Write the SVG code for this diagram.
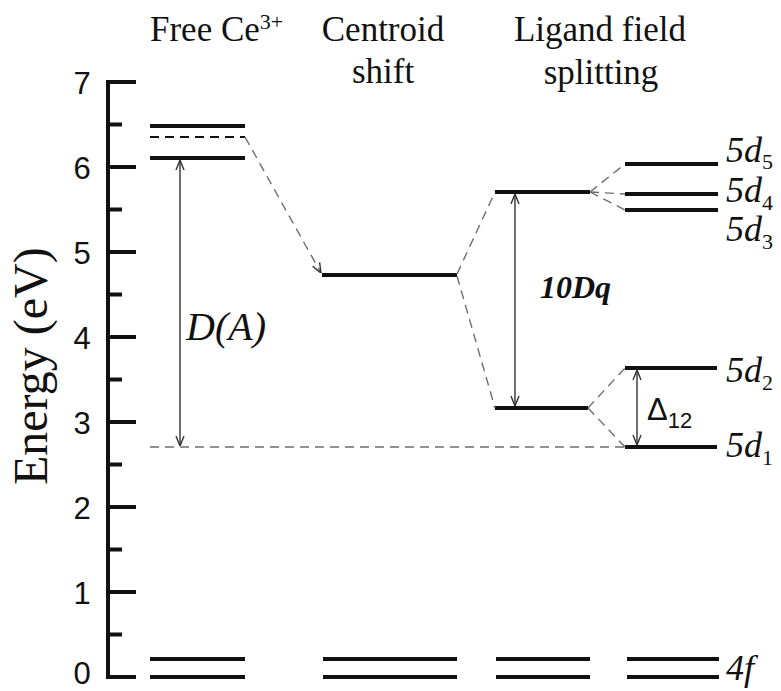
<svg xmlns="http://www.w3.org/2000/svg" width="781" height="691" viewBox="0 0 781 691">
<style>
.lvl{stroke:#111;stroke-width:3.8;fill:none}
.ax{stroke:#111;stroke-width:4;fill:none}
.dash{stroke:#6e6e6e;stroke-width:1.4;fill:none;stroke-dasharray:9 6}
.arr{stroke:#333;stroke-width:1.4;fill:none}
.num{font-family:"Liberation Sans","DejaVu Sans",sans-serif;font-size:31px;fill:#111;text-anchor:middle}
.hd{font-family:"Liberation Serif","Times New Roman",serif;font-size:35px;fill:#111}
.lab{font-family:"Liberation Serif","Times New Roman",serif;font-size:36px;font-style:italic;fill:#111}
.sub{font-size:22px;font-style:normal}
</style>
<defs>
<marker id="ah" viewBox="0 0 10 10" refX="10" refY="5" markerWidth="10" markerHeight="10" markerUnits="userSpaceOnUse" orient="auto-start-reverse">
<path d="M0,1 L10,5 L0,9" fill="none" stroke="#333" stroke-width="1.4"/>
</marker>
</defs>
<rect width="781" height="691" fill="#fff"/>

<g id="axis">
<path class="ax" d="M136,82 H108 V677 H136"/>
<path class="ax" d="M108,167 H136 M108,252 H136 M108,337 H136 M108,422 H136 M108,507 H136 M108,592 H136"/>
<path class="ax" d="M108,124.5 H122 M108,209.5 H122 M108,294.5 H122 M108,379.5 H122 M108,464.5 H122 M108,549.5 H122 M108,634.5 H122"/>
<text class="num" x="82" y="94">7</text>
<text class="num" x="82" y="179">6</text>
<text class="num" x="82" y="264">5</text>
<text class="num" x="82" y="349">4</text>
<text class="num" x="82" y="434">3</text>
<text class="num" x="82" y="519">2</text>
<text class="num" x="82" y="604">1</text>
<text class="num" x="82" y="684">0</text>
<text transform="translate(47,485) rotate(-90)" font-family="Liberation Serif, Times New Roman, serif" font-size="48" fill="#111">Energy (eV)</text>
</g>

<g id="headers">
<text class="hd" x="150" y="41">Free Ce<tspan font-size="22" dy="-12">3+</tspan></text>
<text class="hd" x="383" y="41" text-anchor="middle">Centroid</text>
<text class="hd" x="383" y="83" text-anchor="middle">shift</text>
<text class="hd" x="600" y="41" text-anchor="middle">Ligand field</text>
<text class="hd" x="601" y="84" text-anchor="middle">splitting</text>
</g>

<g id="free-ion">
<line class="lvl" x1="150" y1="126" x2="245" y2="126"/>
<line x1="150" y1="137" x2="245" y2="137" stroke="#111" stroke-width="2" stroke-dasharray="9 6"/>
<line class="lvl" x1="150" y1="158" x2="245" y2="158"/>
</g>

<g id="centroid">
<line class="lvl" x1="322" y1="275" x2="457" y2="275"/>
</g>

<g id="ligand">
<line class="lvl" x1="495" y1="192" x2="590" y2="192"/>
<line class="lvl" x1="495" y1="408" x2="588" y2="408"/>
</g>

<g id="levels-5d">
<line class="lvl" x1="625" y1="164" x2="718" y2="164"/>
<line class="lvl" x1="625" y1="194" x2="718" y2="194"/>
<line class="lvl" x1="625" y1="210" x2="718" y2="210"/>
<line class="lvl" x1="625" y1="368" x2="717" y2="368"/>
<line class="lvl" x1="625" y1="447" x2="717" y2="447"/>
<text class="lab" x="726" y="162">5d<tspan class="sub" dy="7">5</tspan></text>
<text class="lab" x="726" y="202">5d<tspan class="sub" dy="8">4</tspan></text>
<text class="lab" x="726" y="241">5d<tspan class="sub" dy="8">3</tspan></text>
<text class="lab" x="726" y="382">5d<tspan class="sub" dy="8">2</tspan></text>
<text class="lab" x="726" y="457">5d<tspan class="sub" dy="8">1</tspan></text>
</g>

<g id="ground-4f">
<path class="lvl" d="M150,659 H245 M150,677 H245 M323,659 H457 M323,677 H457 M496,659 H590 M496,677 H590 M627,659 H719 M627,677 H719"/>
<text class="lab" x="726" y="680">4f</text>
</g>

<g id="connectors">
<line class="dash" x1="245" y1="137" x2="321" y2="273" marker-end="url(#ah)"/>
<line class="dash" x1="150" y1="447" x2="625" y2="447"/>
<line class="dash" x1="457" y1="274" x2="495" y2="192"/>
<line class="dash" x1="457" y1="276" x2="495" y2="408"/>
<line class="dash" x1="590" y1="192" x2="625" y2="164"/>
<line class="dash" x1="590" y1="192" x2="625" y2="194"/>
<line class="dash" x1="590" y1="192" x2="625" y2="210"/>
<line class="dash" x1="588" y1="408" x2="625" y2="368"/>
<line class="dash" x1="588" y1="408" x2="625" y2="447"/>
<line class="arr" x1="180" y1="160" x2="180" y2="446" marker-start="url(#ah)" marker-end="url(#ah)"/>
<line class="arr" x1="515" y1="194" x2="515" y2="406" marker-start="url(#ah)" marker-end="url(#ah)"/>
<line class="arr" x1="637" y1="370" x2="637" y2="445" marker-start="url(#ah)" marker-end="url(#ah)"/>
</g>

<g id="labels">
<text x="186" y="340" font-family="Liberation Serif, Times New Roman, serif" font-size="40" font-style="italic" fill="#111">D(A)</text>
<text x="540" y="298" font-family="Liberation Serif, Times New Roman, serif" font-size="32" font-style="italic" font-weight="bold" fill="#111">10Dq</text>
<text x="647" y="420" font-family="Liberation Sans, DejaVu Sans, sans-serif" font-size="31" fill="#111">Δ<tspan font-size="22" dy="8">12</tspan></text>
</g>
</svg>
